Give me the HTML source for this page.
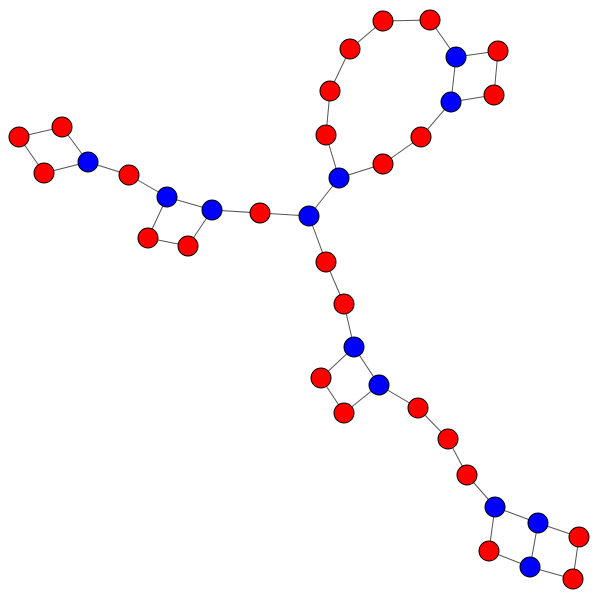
<!DOCTYPE html>
<html><head><meta charset="utf-8"><style>html,body{margin:0;padding:0;background:#fff}svg{display:block}</style></head>
<body>
<svg id="g" width="600" height="600" xmlns="http://www.w3.org/2000/svg"></svg>
<script>
const nodeIds=["R1","R2","B1","R3","R4","B2","R5","R6","B3","R7","R8","R9","B4","R10","B5","B6","R11","R12","R13","B7","R14","R15","R16","R17","R18","B8","R19","R20","B9","R21","R22","R23","B10","B11","R24","B12","R25","R26"];
const nodeX=[383,430,456,498,494,451,421,383,339,326,330,350,309,260,212,167,188,148,129,88,62,19,44,326,344,354,321,344,379,418,448,467,495,538,489,530,579,573];
const nodeY=[21,20,57,51,95,102,137,164,178,135,91,49,216,213,210,197,246,238,175,162,127,137,173,262,304,347,378,413,385,408,439,475,507,523,551,567,537,579];
const edgeFrom=["R9","R1","R2","B1","R3","R4","B2","B2","R5","R6","B3","R7","R8","B3","B4","R10","B5","B5","R11","R12","B6","R13","B7","R14","R15","R16","B4","R17","R18","B8","R19","R20","B9","B9","R21","R22","R23","B10","B10","R24","B12","B11","R25","R26"];
const edgeTo=["R1","R2","B1","R3","R4","B2","B1","R5","R6","B3","R7","R8","R9","B4","R10","B5","B6","R11","R12","B6","R13","B7","R14","R15","R16","B7","R17","R18","B8","R19","R20","B9","B8","R21","R22","R23","B10","B11","R24","B12","B11","R25","R26","B12"];
const svg=document.getElementById('g');
const NS="http://www.w3.org/2000/svg";
const idx=id=>nodeIds.indexOf(id);
for(let i=0;i<edgeFrom.length;i++){
  const a=idx(edgeFrom[i]),b=idx(edgeTo[i]);
  const l=document.createElementNS(NS,'line');
  l.setAttribute('x1',nodeX[a]);l.setAttribute('y1',nodeY[a]);
  l.setAttribute('x2',nodeX[b]);l.setAttribute('y2',nodeY[b]);
  l.setAttribute('stroke','#555');l.setAttribute('stroke-width','1');
  
  
  svg.appendChild(l);
}
for(let i=0;i<nodeIds.length;i++){
  const c=document.createElementNS(NS,'circle');
  c.setAttribute('cx',nodeX[i]);c.setAttribute('cy',nodeY[i]);c.setAttribute('r',10);
  c.setAttribute('fill',nodeIds[i][0]==='B'?'#0000ff':'#ff0000');
  c.setAttribute('stroke','#000');c.setAttribute('stroke-width','1');
  
  
  svg.appendChild(c);
}
</script>
</body></html>
